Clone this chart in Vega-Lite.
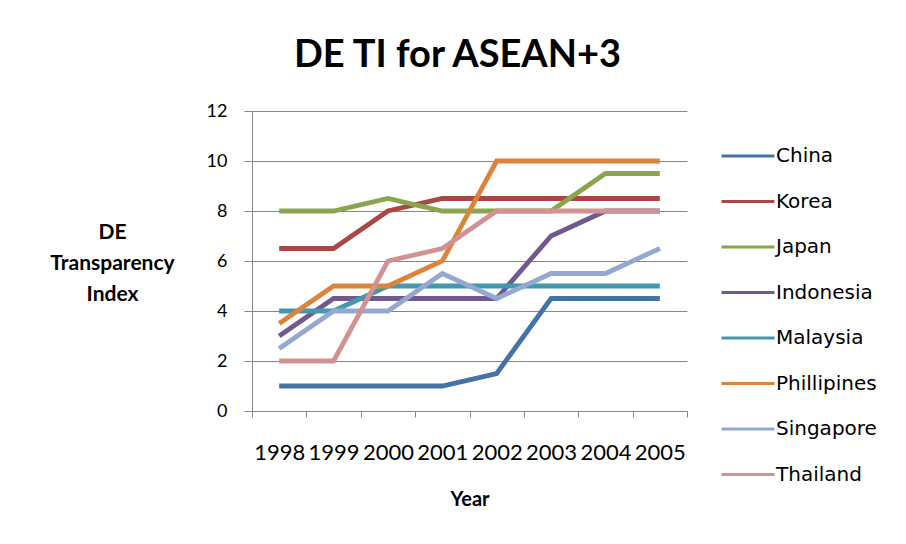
{
  "$schema": "https://vega.github.io/schema/vega-lite/v6.json",
  "width": 435,
  "height": 300,
  "autosize": {"type": "none"},
  "padding": {"left": 252, "top": 111, "right": 219, "bottom": 133},
  "background": "white",
  "title": {
    "text": "DE TI for ASEAN+3",
    "font": "Lato",
    "fontSize": 38,
    "fontWeight": "bold",
    "color": "#000000",
    "anchor": "middle",
    "frame": "group",
    "baseline": "alphabetic",
    "offset": -3,
    "dx": -12
  },
  "data": {
    "values": [
      {"year": "1998", "country": "China", "value": 1},
      {"year": "1999", "country": "China", "value": 1},
      {"year": "2000", "country": "China", "value": 1},
      {"year": "2001", "country": "China", "value": 1},
      {"year": "2002", "country": "China", "value": 1.5},
      {"year": "2003", "country": "China", "value": 4.5},
      {"year": "2004", "country": "China", "value": 4.5},
      {"year": "2005", "country": "China", "value": 4.5},
      {"year": "1998", "country": "Korea", "value": 6.5},
      {"year": "1999", "country": "Korea", "value": 6.5},
      {"year": "2000", "country": "Korea", "value": 8},
      {"year": "2001", "country": "Korea", "value": 8.5},
      {"year": "2002", "country": "Korea", "value": 8.5},
      {"year": "2003", "country": "Korea", "value": 8.5},
      {"year": "2004", "country": "Korea", "value": 8.5},
      {"year": "2005", "country": "Korea", "value": 8.5},
      {"year": "1998", "country": "Japan", "value": 8},
      {"year": "1999", "country": "Japan", "value": 8},
      {"year": "2000", "country": "Japan", "value": 8.5},
      {"year": "2001", "country": "Japan", "value": 8},
      {"year": "2002", "country": "Japan", "value": 8},
      {"year": "2003", "country": "Japan", "value": 8},
      {"year": "2004", "country": "Japan", "value": 9.5},
      {"year": "2005", "country": "Japan", "value": 9.5},
      {"year": "1998", "country": "Indonesia", "value": 3},
      {"year": "1999", "country": "Indonesia", "value": 4.5},
      {"year": "2000", "country": "Indonesia", "value": 4.5},
      {"year": "2001", "country": "Indonesia", "value": 4.5},
      {"year": "2002", "country": "Indonesia", "value": 4.5},
      {"year": "2003", "country": "Indonesia", "value": 7},
      {"year": "2004", "country": "Indonesia", "value": 8},
      {"year": "2005", "country": "Indonesia", "value": 8},
      {"year": "1998", "country": "Malaysia", "value": 4},
      {"year": "1999", "country": "Malaysia", "value": 4},
      {"year": "2000", "country": "Malaysia", "value": 5},
      {"year": "2001", "country": "Malaysia", "value": 5},
      {"year": "2002", "country": "Malaysia", "value": 5},
      {"year": "2003", "country": "Malaysia", "value": 5},
      {"year": "2004", "country": "Malaysia", "value": 5},
      {"year": "2005", "country": "Malaysia", "value": 5},
      {"year": "1998", "country": "Phillipines", "value": 3.5},
      {"year": "1999", "country": "Phillipines", "value": 5},
      {"year": "2000", "country": "Phillipines", "value": 5},
      {"year": "2001", "country": "Phillipines", "value": 6},
      {"year": "2002", "country": "Phillipines", "value": 10},
      {"year": "2003", "country": "Phillipines", "value": 10},
      {"year": "2004", "country": "Phillipines", "value": 10},
      {"year": "2005", "country": "Phillipines", "value": 10},
      {"year": "1998", "country": "Singapore", "value": 2.5},
      {"year": "1999", "country": "Singapore", "value": 4},
      {"year": "2000", "country": "Singapore", "value": 4},
      {"year": "2001", "country": "Singapore", "value": 5.5},
      {"year": "2002", "country": "Singapore", "value": 4.5},
      {"year": "2003", "country": "Singapore", "value": 5.5},
      {"year": "2004", "country": "Singapore", "value": 5.5},
      {"year": "2005", "country": "Singapore", "value": 6.5},
      {"year": "1998", "country": "Thailand", "value": 2},
      {"year": "1999", "country": "Thailand", "value": 2},
      {"year": "2000", "country": "Thailand", "value": 6},
      {"year": "2001", "country": "Thailand", "value": 6.5},
      {"year": "2002", "country": "Thailand", "value": 8},
      {"year": "2003", "country": "Thailand", "value": 8},
      {"year": "2004", "country": "Thailand", "value": 8},
      {"year": "2005", "country": "Thailand", "value": 8}
    ]
  },
  "mark": {"type": "line", "strokeWidth": 4.8, "strokeJoin": "miter", "strokeCap": "butt"},
  "encoding": {
    "x": {
      "field": "year",
      "type": "ordinal",
      "bandPosition": 0.5,
      "scale": {"type": "band", "paddingInner": 0, "paddingOuter": 0},
      "axis": {
        "title": "Year",
        "titleFont": "Lato",
        "titleFontSize": 20,
        "titleFontWeight": "bold",
        "titleColor": "#000000",
        "titleBaseline": "alphabetic",
        "titleY": 94,
        "labelFont": "Lato",
        "labelFontSize": 22,
        "labelColor": "#000000",
        "labelAngle": 0,
        "labelOverlap": false,
        "labelPadding": 25,
        "tickBand": "extent",
        "tickSize": 6,
        "tickColor": "#868686",
        "domainColor": "#868686",
        "grid": false
      }
    },
    "y": {
      "field": "value",
      "type": "quantitative",
      "scale": {"domain": [0, 12], "nice": false},
      "axis": {
        "values": [0, 2, 4, 6, 8, 10, 12],
        "title": ["DE", "Transparency", "Index"],
        "titleFont": "Lato",
        "titleFontSize": 21,
        "titleFontWeight": "bold",
        "titleColor": "#000000",
        "titleAngle": 0,
        "titleAlign": "center",
        "titleBaseline": "middle",
        "titleLineHeight": 31,
        "titleX": -140,
        "titleY": 121,
        "labelFont": "Lato",
        "labelFontSize": 18,
        "labelColor": "#000000",
        "labelPadding": 17,
        "tickSize": 8,
        "tickColor": "#868686",
        "domainColor": "#868686",
        "grid": true,
        "gridColor": "#868686",
        "gridWidth": 1
      }
    },
    "color": {
      "field": "country",
      "type": "nominal",
      "scale": {
        "domain": ["China", "Korea", "Japan", "Indonesia", "Malaysia", "Phillipines", "Singapore", "Thailand"],
        "range": ["#4572A7", "#AA4643", "#89A54E", "#71588F", "#4198AF", "#DB843D", "#93A9CF", "#D19392"]
      },
      "legend": {
        "title": null,
        "orient": "none",
        "legendX": 468,
        "legendY": 17,
        "symbolType": "stroke",
        "symbolSize": 2809,
        "symbolStrokeWidth": 3,
        "labelFont": "DejaVu Sans",
        "labelFontSize": 20,
        "labelColor": "#000000",
        "labelOffset": 0,
        "rowPadding": 7.5
      }
    }
  },
  "config": {
    "view": {"stroke": null}
  }
}
